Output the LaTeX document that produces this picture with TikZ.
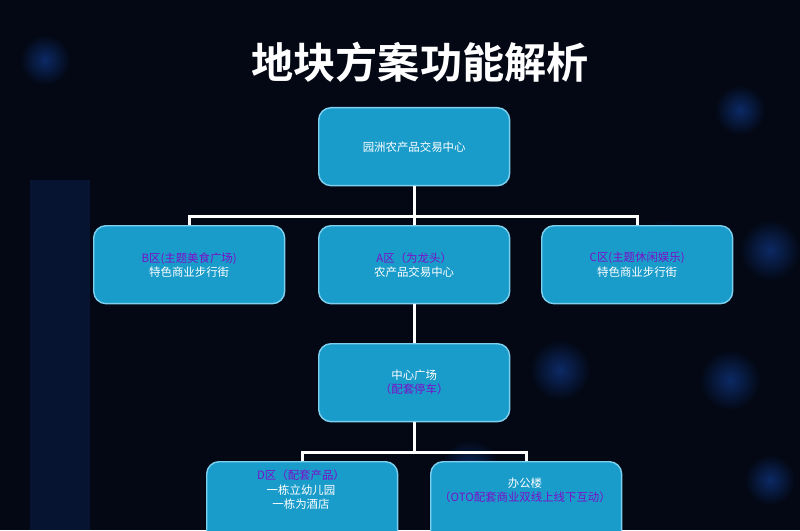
\documentclass[tikz,border=0pt]{standalone}
\usepackage{fontspec}
\usetikzlibrary{calc}
\setmainfont{Noto Sans CJK SC}
\newfontfamily\titlefont{Noto Sans CJK SC Bold}
\definecolor{bg}{HTML}{030814}
\definecolor{boxc}{HTML}{1A9CCB}
\definecolor{boxb}{HTML}{7FD0EE}
\definecolor{pur}{HTML}{7A10C8}
\definecolor{glow}{HTML}{0C2A66}
\begin{document}
\begin{tikzpicture}[x=0.02cm,y=-0.02cm,
  box/.style={draw=boxb,line width=0.8pt,fill=boxc,rounded corners=7pt,minimum width=3.82cm,minimum height=1.56cm,anchor=north west,inner sep=0pt,font=\fontsize{6.5}{8}\selectfont,text=white,align=center},
  link/.style={draw=white,line width=1.6pt}]
\useasboundingbox (0,0) rectangle (800,530);
\fill[bg] (0,0) rectangle (800,530);
\foreach \x/\y/\r in {45/60/25,740/110/25,665/260/40,770/250/30,560/370/30,730/380/30,470/470/30,770/480/25,60/300/15}
  \shade[inner color=glow,outer color=bg] (\x,\y) circle (\r);
\fill[glow!35!bg] (30,180) rectangle (90,530);
\node[font=\titlefont\fontsize{24}{28}\selectfont,text=white] (title) at (420,62) {地块方案功能解析};
\node[box] (top) at (318,107) {园洲农产品交易中心};
\node[box] (b) at (93,225) {\textcolor{pur}{B区(主题美食广场)}\\特色商业步行街};
\node[box] (a) at (318,225) {\textcolor{pur}{A区（为龙头）}\\农产品交易中心};
\node[box] (c) at (541,225) {\textcolor{pur}{C区(主题休闲娱乐)}\\特色商业步行街};
\node[box] (m) at (318,343) {中心广场\\\textcolor{pur}{（配套停车）}};
\node[box,minimum height=1.8cm] (d) at (206,461) {};
\node[box,minimum height=1.8cm] (o) at (430,461) {};
\node[font=\fontsize{6.5}{8}\selectfont,text=white,align=center,anchor=north] (dt) at (301,464) {\textcolor{pur}{D区（配套产品）}\\一栋立幼儿园\\一栋为酒店};
\node[font=\fontsize{6.5}{8}\selectfont,text=white,align=center] (ot) at (525,490) {办公楼\\\textcolor{pur}{（OTO配套商业双线上线下互动）}};
\coordinate (j1) at ($(top.south)+(0,30)$);
\coordinate (j2) at ($(m.south)+(0,30)$);
\draw[link] (top.south) -- (a.north);
\draw[link] (b.north) |- (j1) -| (c.north);
\draw[link] (a.south) -- (m.north);
\draw[link] (m.south) -- (j2);
\draw[link] (d.north) |- (j2) -| (o.north);
\end{tikzpicture}
\end{document}
